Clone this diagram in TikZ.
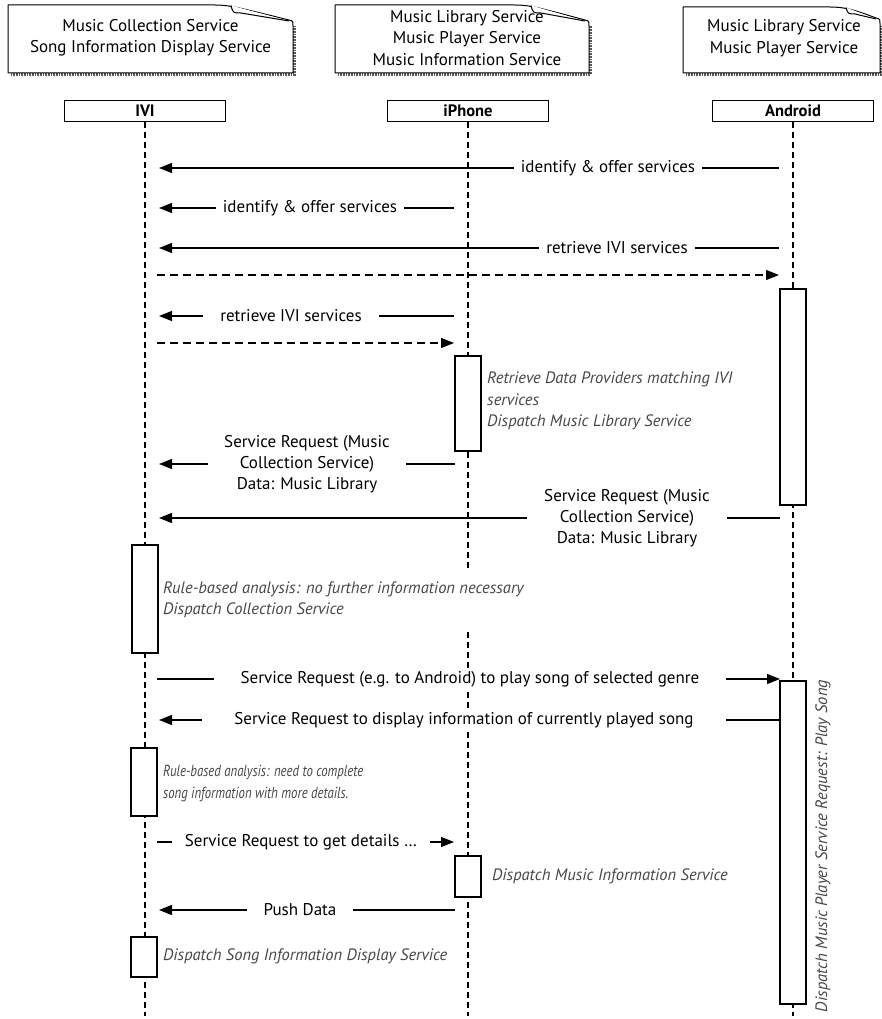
\documentclass[tikz,border=0pt]{standalone}
\usepackage{fontspec}
\setmainfont{PT Sans}
\usetikzlibrary{arrows.meta,positioning,calc}

\tikzset{
  notebox/.style={draw, line width=1pt, fill=white, line join=round},
  noteshadow/.style={draw=black!65, line width=2.6pt, dash pattern=on 0.8pt off 0.8pt},
  notetext/.style={align=center, inner sep=0pt, font=\fontsize{17}{21.5}\selectfont},
  lifehead/.style={draw, line width=1.1pt, fill=white, minimum width=161pt, minimum height=21pt,
    inner sep=0pt, font=\bfseries\fontsize{16.5}{18}\selectfont},
  lifeline/.style={line width=1.1pt, dash pattern=on 6pt off 4pt},
  msg/.style={line width=1.2pt, -{Triangle[length=13pt,width=10pt]}},
  reply/.style={msg, dash pattern=on 8pt off 5pt},
  msglabel/.style={fill=white, inner xsep=7pt, inner ysep=1pt, align=center,
    font=\fontsize{17}{21}\selectfont},
  activity/.style={draw, line width=1.1pt, fill=white},
  remark/.style={fill=white, inner xsep=1pt, inner ysep=6pt, align=left, anchor=west,
    text=black!72, font=\itshape\fontsize{16.5}{21.5}\selectfont},
}

\begin{document}
\begin{tikzpicture}[x=1pt, y=-1pt]
  \useasboundingbox (0,0) rectangle (881,1019);

  % service notes
  \draw[noteshadow] (11,74.5) -- (294.5,74.5) -- (294.5,26);
  \draw[notebox] (8,5) -- (215,5) .. controls (230,5) and (240,8) .. (289,20)
    .. controls (293,21) .. (293,26) -- (293,73) -- (8,73) -- cycle;
  \draw[notebox] (231,5.5) .. controls (233,13) .. (241,13) -- (289,21);
  \node[notetext] (ivinote) at (150.5,38) {Music Collection Service\\Song Information Display Service};

  \draw[noteshadow] (338,74.5) -- (590.5,74.5) -- (590.5,26);
  \draw[notebox] (335,5) -- (515,5) .. controls (530,5) and (540,8) .. (585,20)
    .. controls (589,21) .. (589,26) -- (589,73) -- (335,73) -- cycle;
  \draw[notebox] (531,5.5) .. controls (533,13) .. (541,13) -- (585,21);
  \node[notetext] (iphonenote) at (467,38) {Music Library Service\\Music Player Service\\Music Information Service};

  \draw[noteshadow] (686,74.5) -- (881.5,74.5) -- (881.5,26);
  \draw[notebox] (683,7) -- (830,7) .. controls (845,7) and (855,10) .. (876,18)
    .. controls (880,19) .. (880,24) -- (880,73) -- (683,73) -- cycle;
  \draw[notebox] (846,7.5) .. controls (848,14) .. (855,14) -- (876,19);
  \node[notetext] (androidnote) at (784,38) {Music Library Service\\Music Player Service};

  % lifelines
  \node[lifehead] (ivi) at (145,111) {IVI};
  \node[lifehead] (iphone) at (468,111) {iPhone};
  \node[lifehead] (android) at (793,111) {Android};
  \foreach \who in {ivi,iphone,android}
    \draw[lifeline] (\who.south) -- (\who.south |- 0,1016);

  % discovery
  \draw[msg] ([xshift=-14pt]android |- 0,168) -- ([xshift=14pt]ivi |- 0,168);
  \node[msglabel] (m1) at (608,168) {identify \& offer services};
  \draw[msg] ([xshift=-14pt]iphone |- 0,208) -- ([xshift=14pt]ivi |- 0,208);
  \node[msglabel] (m2) at (310,208) {identify \& offer services};
  \draw[msg] ([xshift=-14pt]android |- 0,248) -- ([xshift=14pt]ivi |- 0,248);
  \node[msglabel] (m3) at (617,248) {retrieve IVI services};
  \draw[reply] ([xshift=12pt]ivi |- 0,275) -- ([xshift=-14pt]android |- 0,275);
  \draw[msg] ([xshift=-14pt]iphone |- 0,316) -- ([xshift=14pt]ivi |- 0,316);
  \node[msglabel, inner xsep=17pt] (m5) at (291,316) {retrieve IVI services};
  \draw[reply] ([xshift=12pt]ivi |- 0,343) -- ([xshift=-14pt]iphone |- 0,343);

  % provider activations
  \draw[activity] (780,289) rectangle (806,505);
  \draw[activity] (455,356) rectangle (481,451);
  \node[remark] (r1) at (486,401) {Retrieve Data Providers matching IVI\\services\\Dispatch Music Library Service};

  % music collection
  \draw[msg] ([xshift=-13pt]iphone |- 0,464) -- ([xshift=14pt]ivi |- 0,464);
  \node[msglabel, inner xsep=16pt] (m7) at (307,464) {Service Request (Music\\Collection Service)\\Data: Music Library};
  \draw[msg] ([xshift=-13pt]android |- 0,518) -- ([xshift=14pt]ivi |- 0,518);
  \node[msglabel, inner xsep=17pt] (m8) at (627,518) {Service Request (Music\\Collection Service)\\Data: Music Library};

  \draw[activity] (132,545) rectangle (158,653);
  \node[remark, inner ysep=12pt] (r2) at (162,600) {Rule-based analysis: no further information necessary\\Dispatch Collection Service};

  % play song
  \draw[msg] ([xshift=12pt]ivi |- 0,679) -- ([xshift=-13pt]android |- 0,679);
  \node[msglabel, inner xsep=27pt] (m9) at (470,679) {Service Request (e.g. to Android) to play song of selected genre};
  \draw[msg] ([xshift=-13pt]android |- 0,720) -- ([xshift=14pt]ivi |- 0,720);
  \node[msglabel, inner xsep=32pt] (m10) at (464,720) {Service Request to display information of currently played song};
  \draw[activity] (780,681) rectangle (806,1004);
  \node[remark, anchor=center, rotate=90, fill=none] (r6) at (823,846) {Dispatch Music Player Service Request: Play Song};

  % song details
  \draw[activity] (131,748) rectangle (157,816);
  \node[remark, font=\itshape\fontsize{16}{22}\selectfont\addfontfeature{FakeStretch=0.8}] (r3) at (162,784) {Rule-based analysis: need to complete\\song information with more details.};
  \draw[msg] ([xshift=12pt]ivi |- 0,842) -- ([xshift=-14pt]iphone |- 0,842);
  \node[msglabel, inner xsep=13pt] (m11) at (301,842) {Service Request to get details \dots};
  \draw[activity] (455,856) rectangle (481,897);
  \node[remark] (r4) at (491,876) {Dispatch Music Information Service};
  \draw[msg] ([xshift=-13pt]iphone |- 0,910) -- ([xshift=14pt]ivi |- 0,910);
  \node[msglabel, inner xsep=17pt] (m12) at (300,910) {Push Data};
  \draw[activity] (131,937) rectangle (157,977);
  \node[remark] (r5) at (162,956) {Dispatch Song Information Display Service};
\end{tikzpicture}
\end{document}
